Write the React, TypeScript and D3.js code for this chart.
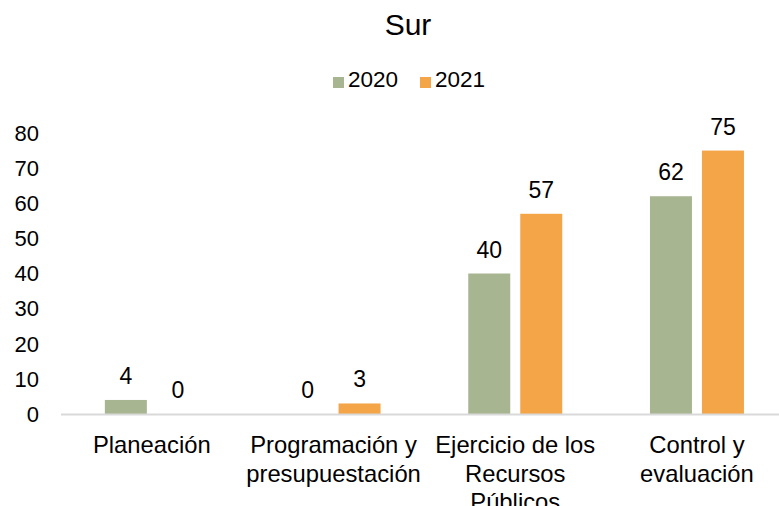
import React from "react";
import * as d3 from "d3";

const title = "Sur";
const categories = [
  ["Planeación"],
  ["Programación y", "presupuestación"],
  ["Ejercicio de los", "Recursos", "Públicos"],
  ["Control y", "evaluación"],
];
const seriesNames = ["2020", "2021"];
const values2020 = [4, 0, 40, 62];
const values2021 = [0, 3, 57, 75];
const colors = ["#A7B591", "#F3A548"];
const yTicks = [0, 10, 20, 30, 40, 50, 60, 70, 80];

const W = 779;
const H = 506;
const FONT = "'Liberation Sans', Arial, sans-serif";

export default function App() {
  const catKeys = categories.map((c) => c.join(" "));
  const x0 = d3.scaleBand<string>().domain(catKeys).range([61, 61 + 4 * 181.7]).padding(0);
  const bw = x0.bandwidth();
  const groupW = 94;
  const x1 = d3
    .scaleBand<string>()
    .domain(seriesNames)
    .range([(bw - groupW) / 2, (bw + groupW) / 2])
    .paddingInner(0.1923)
    .paddingOuter(0);
  const y = d3.scaleLinear().domain([0, 80]).range([414, 133]);
  const series = [values2020, values2021];

  return (
    <div style={{ position: "fixed", left: 0, top: 0 }}>
      <svg width={W} height={H} style={{ display: "block", background: "#fff" }} fontFamily={FONT}>
        <text x={408} y={35} textAnchor="middle" fontSize={30} fill="#000">
          {title}
        </text>
        {/* legend */}
        {seriesNames.map((s, i) => {
          const lx = i === 0 ? 333 : 420;
          return (
            <g key={s}>
              <rect x={lx} y={77} width={11} height={11} fill={colors[i]} />
              <text x={lx + 15} y={86.5} fontSize={22.5} fill="#000">
                {s}
              </text>
            </g>
          );
        })}
        {/* y ticks */}
        {yTicks.map((t) => (
          <text key={t} x={39} y={y(t) + 7.8} textAnchor="end" fontSize={22} fill="#000">
            {t}
          </text>
        ))}
        {/* bars */}
        {catKeys.map((c, ci) => (
          <g key={c} transform={`translate(${x0(c)},0)`}>
            {seriesNames.map((s, si) => {
              const v = series[si][ci];
              const bx = x1(s) as number;
              return (
                <g key={s}>
                  {v > 0 && (
                    <rect x={bx} y={y(v)} width={x1.bandwidth()} height={y(0) - y(v)} fill={colors[si]} />
                  )}
                  <text
                    x={bx + x1.bandwidth() / 2}
                    y={y(v) - 16}
                    textAnchor="middle"
                    fontSize={23}
                    fill="#000"
                  >
                    {v}
                  </text>
                </g>
              );
            })}
          </g>
        ))}
        {/* axis line */}
        <line x1={61} x2={W} y1={y(0) + 0.5} y2={y(0) + 0.5} stroke="#D9D9D9" strokeWidth={2} />
        {/* category labels */}
        {categories.map((lines, ci) => (
          <text
            key={ci}
            x={(x0(catKeys[ci]) as number) + bw / 2}
            y={453}
            textAnchor="middle"
            fontSize={23.8}
            fill="#000"
          >
            {lines.map((l, li) => (
              <tspan key={li} x={(x0(catKeys[ci]) as number) + bw / 2} y={453 + li * 28.5}>
                {l}
              </tspan>
            ))}
          </text>
        ))}
      </svg>
    </div>
  );
}
